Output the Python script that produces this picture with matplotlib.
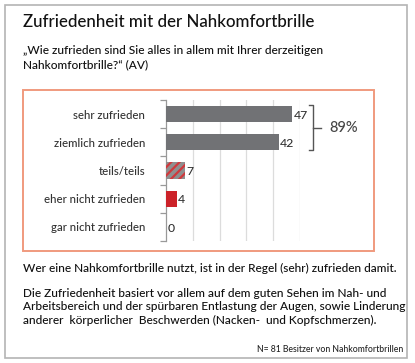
import matplotlib
matplotlib.use("Agg")
import matplotlib.pyplot as plt
from matplotlib.patches import Rectangle
from matplotlib.lines import Line2D

plt.rcParams['font.family'] = ['Lato', 'DejaVu Sans']
plt.rcParams['font.weight'] = 'medium'
plt.rcParams['hatch.linewidth'] = 1.6

categories = ["sehr zufrieden", "ziemlich zufrieden", "teils/teils",
              "eher nicht zufrieden", "gar nicht zufrieden"]
values = [47, 42, 7, 4, 0]
summary_label = "89%"
title = "Zufriedenheit mit der Nahkomfortbrille"
question = "\u201eWie zufrieden sind Sie alles in allem mit Ihrer derzeitigen\nNahkomfortbrille?\u201c (AV)"
note1 = "Wer eine Nahkomfortbrille nutzt, ist in der Regel (sehr) zufrieden damit."
note2 = ("Die Zufriedenheit basiert vor allem auf dem guten Sehen im Nah- und\n"
         "Arbeitsbereich und der spürbaren Entlastung der Augen, sowie Linderung\n"
         "anderer  körperlicher  Beschwerden (Nacken-  und Kopfschmerzen).")
footnote = "N= 81 Besitzer von Nahkomfortbrillen"

W, H = 415, 363
fig = plt.figure(figsize=(W / 100, H / 100), dpi=100)
fig.patch.set_facecolor("white")

def fx(x):
    return x / W

def fy(y):
    return 1 - y / H

# outer frame
fig.patches.append(Rectangle((fx(5), fy(358)), fx(402), 353 / H, transform=fig.transFigure,
                             fill=False, edgecolor="#b4b4b4", linewidth=1.2))
# orange chart frame
fig.patches.append(Rectangle((fx(23), fy(251)), fx(351), 161 / H, transform=fig.transFigure,
                             fill=False, edgecolor="#f09a7e", linewidth=1.4))

# axes
ax = fig.add_axes([fx(166), fy(241), fx(300 - 166), (241 - 100) / H])
ax.set_xlim(0, 50)
ax.set_ylim(4.5, -0.5)
ypos = list(range(len(categories)))

colors = ["#717275", "#717275", "#8a8a8a", "#cc2229", "#cc2229"]
for i, (y, v) in enumerate(zip(ypos, values)):
    if i == 2:
        ax.barh(y, v, height=0.58, color="#8f8f8f", edgecolor="#d0393d",
                hatch="////", linewidth=0, zorder=3)
    else:
        ax.barh(y, v, height=0.58, color=colors[i], linewidth=0, zorder=3)
    ax.text(v + 0.6, y + 0.04, str(v), va="center", ha="left", fontsize=8.8,
            color="#333333", zorder=4)

ax.set_xticks([10, 20, 30, 40, 50])
ax.grid(axis="x", color="#dcdcdc", linewidth=0.9, zorder=0)
ax.tick_params(axis="x", length=0, labelbottom=False)
ax.set_yticks(ypos)
ax.set_yticklabels(categories, fontsize=8.2, color="#333333")
ax.tick_params(axis="y", which="major", length=0, pad=15)
ax.set_yticks([-0.5, 0.5, 1.5, 2.5, 3.5, 4.5], minor=True)
ax.tick_params(axis="y", which="minor", length=4, color="#999999", width=0.9)
for s in ["top", "right", "bottom"]:
    ax.spines[s].set_visible(False)
ax.spines["left"].set_color("#999999")
ax.spines["left"].set_linewidth(0.9)
ax.set_facecolor("none")

# bracket for top two bars
bx = 55.0
bracket = Line2D([bx - 1.6, bx, bx, bx - 1.6], [-0.32, -0.32, 1.28, 1.28],
                 color="#555555", linewidth=1.0, clip_on=False)
ax.add_line(bracket)
ax.add_line(Line2D([bx, bx + 2.8], [0.5, 0.5], color="#555555", linewidth=1.0, clip_on=False))
ax.text(bx + 6.0, 0.5, summary_label, va="center", ha="left", fontsize=10.5,
        color="#444444", clip_on=False)

# texts
fig.text(fx(23), fy(22), title, fontsize=12.2, color="#111111", va="center", ha="left")
fig.text(fx(23), fy(58), question, fontsize=8.6, color="#111111", va="center", ha="left",
         linespacing=1.35)
fig.text(fx(23), fy(268), note1, fontsize=8.6, color="#111111", va="center", ha="left")
fig.text(fx(23), fy(307), note2, fontsize=8.6, color="#111111", va="center", ha="left",
         linespacing=1.22)
fig.text(fx(403), fy(349), footnote, fontsize=6.2, color="#222222", va="center", ha="right")

fig.savefig("out.png", dpi=100, facecolor="white")
